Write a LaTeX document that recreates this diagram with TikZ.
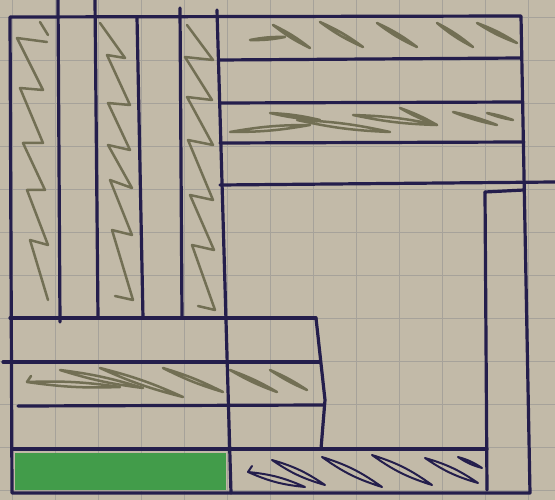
\documentclass[tikz,border=0pt]{standalone}
\definecolor{paper}{RGB}{194,186,168}
\definecolor{gridc}{RGB}{166,162,154}
\definecolor{pen}{RGB}{36,30,76}
\definecolor{hatch}{RGB}{114,111,84}
\definecolor{grn}{RGB}{66,156,74}
\tikzset{
  penline/.style={draw=pen,line width=3.2pt,line cap=round,line join=round},
  hatchline/.style={draw=hatch,line width=2.5pt,line cap=round,line join=round},
  darkhatch/.style={draw=pen,line width=2pt,line cap=round,line join=round},
  gridline/.style={draw=gridc,line width=0.7pt}
}
\begin{document}
\begin{tikzpicture}[x=1pt,y=-1pt]
\fill[paper] (0,0) rectangle (555,500);
\useasboundingbox (0,0) rectangle (555,500);
% grid paper
\foreach \x in {12,55,...,528} \draw[gridline] (\x,0) -- (\x,500);
\foreach \y in {17,60,...,490} \draw[gridline] (0,\y) -- (555,\y);
% green strip
\fill[grn] (15,453) rectangle (226,490);
% hatching in vertical strips
\draw[hatchline] (40,22) -- (48,35);
\draw[hatchline] (47,42) -- (17,38) -- (43,90) -- (20,88) -- (43,143) -- (23,143) -- (45,190) -- (27,190) -- (48,245) -- (30,240) -- (48,300);
\draw[hatchline] (100,23) -- (125,58) -- (107,55) -- (130,105) -- (108,103) -- (130,150) -- (108,145) -- (132,188) -- (110,180) -- (132,235) -- (112,230) -- (133,300) -- (115,296);
\draw[hatchline] (187,25) -- (213,60) -- (185,57) -- (212,100) -- (187,97) -- (213,145) -- (188,140) -- (213,200) -- (190,195) -- (214,250) -- (192,245) -- (215,310) -- (198,306);
% hatching in horizontal strips (narrow loops)
\foreach \ax/\ay/\bx/\by in {250/40/285/37, 273/25/310/48, 320/22/363/47, 377/23/417/47, 437/23/473/47, 477/23/517/43}
  \draw[hatchline] (\ax,\ay) to[bend left=6] (\bx,\by) to[bend left=6] (\ax,\ay);
\foreach \ax/\ay/\bx/\by in {230/132/310/125, 270/113/320/120, 297/120/390/132, 353/115/437/125, 400/108/437/125, 453/112/497/125, 487/113/513/120}
  \draw[hatchline] (\ax,\ay) to[bend left=5] (\bx,\by) to[bend left=5] (\ax,\ay);
\foreach \ax/\ay/\bx/\by in {27/382/120/387, 60/370/143/388, 100/368/183/397, 163/368/223/392, 230/370/277/392, 270/370/307/390}
  \draw[hatchline] (\ax,\ay) to[bend left=5] (\bx,\by) to[bend left=5] (\ax,\ay);
\draw[hatchline] (27,382) -- (31,376);
% dark hatching in the bottom right strip
\foreach \ax/\ay/\bx/\by in {248/472/305/487, 272/460/325/485, 322/457/382/487, 372/455/432/485, 425/458/478/483, 458/457/482/468}
  \draw[darkhatch] (\ax,\ay) to[bend left=9] (\bx,\by) to[bend left=9] (\ax,\ay);
\draw[darkhatch] (248,472) -- (252,466);
% outline
\draw[penline] (10,17) -- (521,16) -- (530,493) -- (12,493) -- cycle;
% vertical strip lines
\draw[penline] (58,0) -- (60,322);
\draw[penline] (95,0) -- (98,318);
\draw[penline] (137,17) -- (143,318);
\draw[penline] (180,8) -- (182,318);
\draw[penline] (217,10) -- (231,493);
% upper right horizontal lines
\draw[penline] (219,60) -- (521,58);
\draw[penline] (220,103) -- (523,102);
\draw[penline] (220,143) -- (524,142);
\draw[penline] (220,185) -- (555,182);
% inner right column
\draw[penline] (485,192) -- (524,190);
\draw[penline] (485,192) -- (487,490);
% lower left lines
\draw[penline] (10,318) -- (316,318);
\draw[penline] (3,362) -- (320,362);
\draw[penline] (18,406) -- (324,405);
\draw[penline] (12,449) -- (487,449);
\draw[penline] (316,318) -- (325,400) -- (321,449);
\end{tikzpicture}
\end{document}
